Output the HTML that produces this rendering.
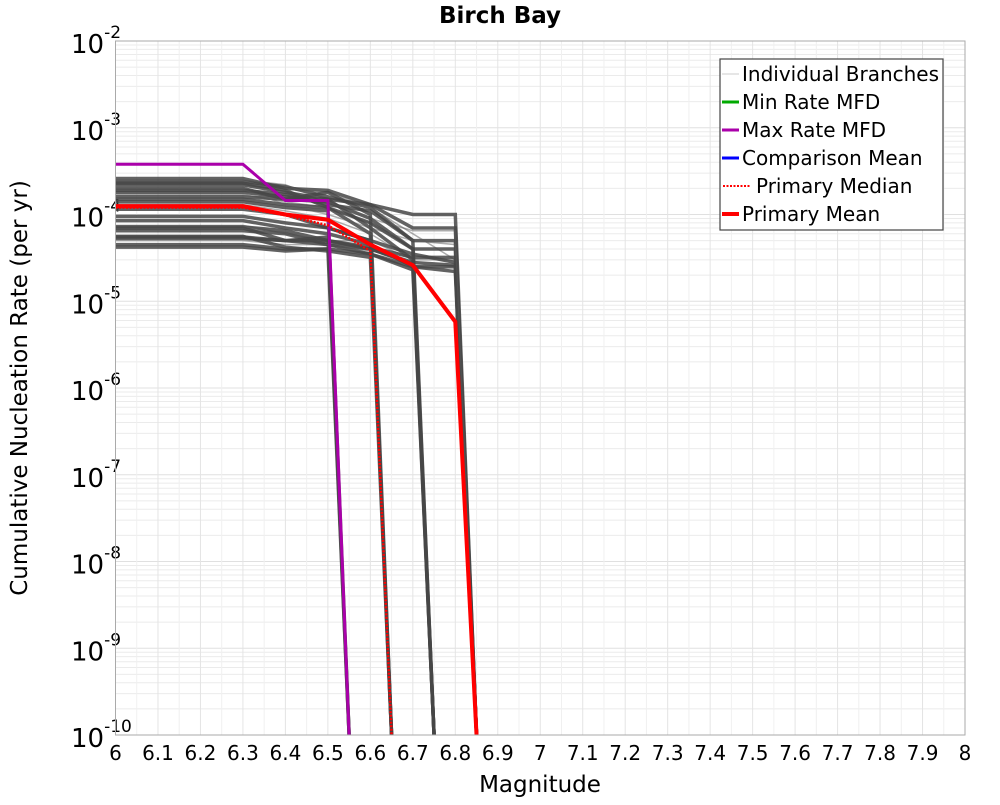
<!DOCTYPE html>
<html><head><meta charset="utf-8"><style>
body{margin:0;background:#fff;font-family:"Liberation Sans","DejaVu Sans",sans-serif}
svg text{font-family:"DejaVu Sans","Liberation Sans",sans-serif}
</style></head><body>
<svg id="chart" width="1000" height="800" xmlns="http://www.w3.org/2000/svg">
<text x="500" y="23" text-anchor="middle" font-size="23" font-weight="bold">Birch Bay</text>
<text transform="translate(27,388) rotate(-90)" text-anchor="middle" font-size="23">Cumulative Nucleation Rate (per yr)</text>
<text x="540" y="792" text-anchor="middle" font-size="23">Magnitude</text>
<g id="grid"></g><g id="ticks"></g>
<defs><clipPath id="clip"><rect x="115.5" y="41" width="849.5" height="694"/></clipPath></defs>
<g id="series" clip-path="url(#clip)"></g>
<rect x="115.5" y="41" width="849.5" height="694" fill="none" stroke="#aaa" stroke-width="1"/>
<g>
<rect x="720" y="59" width="223" height="171" fill="#fff" stroke="#444" stroke-width="1.2"/>
<g><line x1="722" y1="74" x2="739" y2="74" stroke="#ccc" stroke-width="1"/><text x="742" y="81" font-size="20">Individual Branches</text></g>
<g><line x1="722" y1="102" x2="739" y2="102" stroke="#0a0" stroke-width="3"/><text x="742" y="109" font-size="20">Min Rate MFD</text></g>
<g><line x1="722" y1="130" x2="739" y2="130" stroke="#a0a" stroke-width="3"/><text x="742" y="137" font-size="20">Max Rate MFD</text></g>
<g><line x1="722" y1="158" x2="739" y2="158" stroke="#00f" stroke-width="3"/><text x="742" y="165" font-size="20">Comparison Mean</text></g>
<g><line x1="723" y1="186" x2="751" y2="186" stroke="#f00" stroke-width="2" stroke-dasharray="2,1.5"/><text x="756" y="193" font-size="20">Primary Median</text></g>
<g><line x1="722" y1="214" x2="739" y2="214" stroke="#f00" stroke-width="4"/><text x="742" y="221" font-size="20">Primary Mean</text></g>
</g>
</svg>
<script>
const xTicks=[6,6.1,6.2,6.3,6.4,6.5,6.6,6.7,6.8,6.9,7,7.1,7.2,7.3,7.4,7.5,7.6,7.7,7.8,7.9,8];
const yExps=[-2,-3,-4,-5,-6,-7,-8,-9,-10];
const mags=[6.0,6.3,6.4,6.5,6.6,6.7,6.8];
// branch rates at mags (null = beyond cutoff)
const branches=[
[2.6e-4,2.6e-4,2.0e-4,1.9e-4,1.3e-4,7e-5,7e-5],
[2.4e-4,2.4e-4,2.1e-4,1.6e-4,1.2e-4,5e-5,5e-5],
[2.2e-4,2.2e-4,1.8e-4,1.5e-4,1.3e-4,1e-4,1e-4],
[2.1e-4,2.1e-4,2.0e-4,1.8e-4,1.2e-4,6e-5,3e-5],
[2.0e-4,2.0e-4,1.5e-4,1.4e-4,9e-5,4e-5,4e-5],
[1.9e-4,1.9e-4,1.7e-4,1.3e-4,1.1e-4,5e-5,null],
[1.8e-4,1.8e-4,1.6e-4,1.5e-4,7e-5,3e-5,null],
[1.7e-4,1.7e-4,1.4e-4,1.2e-4,8e-5,4e-5,null],
[1.6e-4,1.6e-4,1.5e-4,1.8e-4,1.0e-4,null,null],
[1.5e-4,1.5e-4,1.3e-4,1.2e-4,6e-5,null,null],
[1.4e-4,1.4e-4,1.2e-4,1.1e-4,null,null,null],
[1.3e-4,1.3e-4,1.1e-4,9e-5,6e-5,3e-5,3e-5],
[1.15e-4,1.15e-4,1.0e-4,7e-5,5e-5,3.5e-5,2.8e-5],
[9.5e-5,9.5e-5,8e-5,7e-5,5e-5,null,null],
[8.5e-5,8.5e-5,7e-5,6e-5,4.5e-5,2.5e-5,2.5e-5],
[7.5e-5,7.5e-5,6e-5,5e-5,5e-5,3e-5,null],
[7.0e-5,7.0e-5,5e-5,5.5e-5,null,null,null],
[6.5e-5,6.5e-5,6e-5,4.5e-5,4e-5,2.7e-5,null],
[5.5e-5,5.5e-5,5e-5,4.5e-5,3.5e-5,2.5e-5,2.2e-5],
[5.0e-5,5.0e-5,4.5e-5,4.5e-5,3.8e-5,null,null],
[4.5e-5,4.5e-5,4e-5,4e-5,null,null,null],
[4.2e-5,4.2e-5,3.8e-5,4e-5,3.5e-5,2.3e-5,null],
[2.3e-4,2.3e-4,1.9e-4,1.2e-4,8e-5,4e-5,null],
[1.95e-4,1.95e-4,1.3e-4,1.0e-4,7e-5,5e-5,4.5e-5],
[7.2e-5,7.2e-5,6.5e-5,5e-5,4.2e-5,3.2e-5,3.2e-5],
[5.3e-5,5.3e-5,5e-5,5e-5,4e-5,2.8e-5,2.6e-5],
[5.6e-5,5.6e-5,4.2e-5,3.8e-5,3.2e-5,null,null],
[2.5e-4,2.5e-4,2.2e-4,1.4e-4,9e-5,6.5e-5,6.5e-5]
];
const maxRate=[3.8e-4,3.8e-4,1.45e-4,1.45e-4,null,null,null];
const meanRate=[1.25e-4,1.25e-4,1.0e-4,8.7e-5,4.5e-5,2.6e-5,5.8e-6];
const medianRate=[1.2e-4,1.2e-4,9.8e-5,7.5e-5,3.8e-5,null,null];
const NS='http://www.w3.org/2000/svg';
const X=m=>115.5+(m-6)*424.75;
const Y=v=>41+(-2-Math.log10(v))*86.75;
function mk(t,a,p){const e=document.createElementNS(NS,t);for(const k in a)e.setAttribute(k,a[k]);p.appendChild(e);return e;}
const grid=document.getElementById('grid'),ticks=document.getElementById('ticks'),ser=document.getElementById('series');
for(let e=-10;e<-2;e++)for(let k=2;k<10;k++){const y=Y(k*Math.pow(10,e));const l=mk('line',{x1:115.5,x2:965,y1:y,y2:y,stroke:'#ebebeb','stroke-width':1},grid);

}
yExps.forEach(e=>{const y=Y(Math.pow(10,e));const l=mk('line',{x1:115.5,x2:965,y1:y,y2:y,stroke:'#e0e0e0','stroke-width':1},grid);


const t=mk('text',{x:71,y:y+12,'font-size':26},ticks);


t.innerHTML='10<tspan dy="-15" font-size="17">'+e+'</tspan>';});
for(let i=0;i<40;i++){const x=X(6+i*0.05);const l=mk('line',{x1:x,x2:x,y1:41,y2:735,stroke:i%2?'#f0f0f0':'#e4e4e4','stroke-width':1},grid);

}
xTicks.forEach(m=>{const t=mk('text',{x:X(m),y:760,'font-size':20,'text-anchor':'middle'},ticks);


t.textContent=String(m);});
function pts(arr){const p=[];let last=0;arr.forEach((v,i)=>{if(v!=null){p.push(X(mags[i])+','+Y(v));last=i;}});
p.push(X(mags[last]+0.05)+','+Y(1e-10)+' ');p.push(X(mags[last]+0.052)+','+Y(1e-11));return p.join(' ');}
branches.forEach((b,i)=>{const l=mk('polyline',{points:pts(b),fill:'none',stroke:i%4==3?'rgba(90,90,90,0.5)':'rgba(70,70,70,0.85)','stroke-width':i%4==3?1.5:3.5},ser);

});
let l=mk('polyline',{points:pts(maxRate),fill:'none',stroke:'#a0a','stroke-width':3},ser);


l=mk('polyline',{points:pts(medianRate),fill:'none',stroke:'#f00','stroke-width':2.5,'stroke-dasharray':'2,1.5'},ser);


l=mk('polyline',{points:pts(meanRate),fill:'none',stroke:'#f00','stroke-width':4},ser);


</script>
</body></html>
